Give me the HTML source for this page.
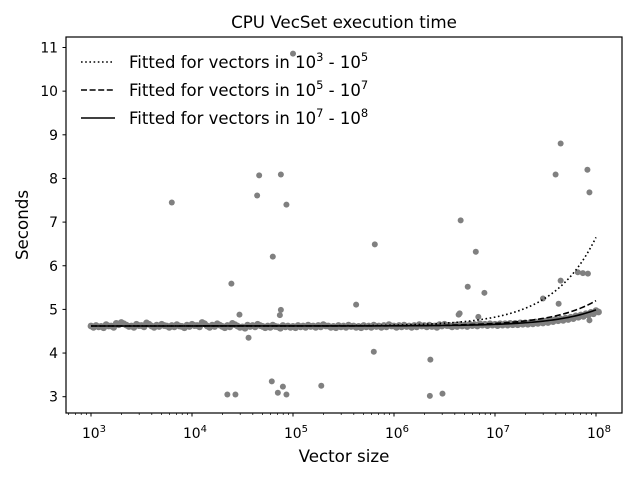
<!DOCTYPE html>
<html><head><meta charset="utf-8"><style>
html,body{margin:0;padding:0;background:#fff;}
svg{display:block;font-family:"DejaVu Sans","Liberation Sans",sans-serif;}
</style></head><body>
<svg id="chart" width="640" height="480" viewBox="0 0 640 480">
<rect x="0" y="0" width="640" height="480" fill="#fff"/>
<text x="344" y="28" text-anchor="middle" font-size="16.7">CPU VecSet execution time</text>
<g id="points"></g>
<g id="fits"></g>
<rect x="66" y="37" width="556" height="376" fill="none" stroke="#000" stroke-width="1.2"/>
<g id="yaxis"></g>
<g id="xaxis"></g>
<text x="0" y="0" transform="translate(28,225) rotate(-90)" text-anchor="middle" font-size="16.7">Seconds</text>
<text x="344" y="462" text-anchor="middle" font-size="16.7">Vector size</text>
<g>
 <g>
  <line x1="81" y1="62" x2="113" y2="62" stroke="#000" stroke-width="1.6" stroke-dasharray="1.6,2.6"/>
  <text x="129" y="68" font-size="16.5">Fitted for vectors in 10<tspan dy="-7" font-size="11.5">3</tspan><tspan dy="7"> - 10</tspan><tspan dy="-7" font-size="11.5">5</tspan></text>
 </g>
 <g>
  <line x1="81" y1="90" x2="113" y2="90" stroke="#000" stroke-width="1.6" stroke-dasharray="6,2.6"/>
  <text x="129" y="96" font-size="16.5">Fitted for vectors in 10<tspan dy="-7" font-size="11.5">5</tspan><tspan dy="7"> - 10</tspan><tspan dy="-7" font-size="11.5">7</tspan></text>
 </g>
 <g>
  <line x1="81" y1="118" x2="115" y2="118" stroke="#000" stroke-width="1.6"/>
  <text x="129" y="124" font-size="16.5">Fitted for vectors in 10<tspan dy="-7" font-size="11.5">7</tspan><tspan dy="7"> - 10</tspan><tspan dy="-7" font-size="11.5">8</tspan></text>
 </g>
</g>
</svg>
<script>
const yTicks = [3,4,5,6,7,8,9,10,11];
const xTickExps = [3,4,5,6,7,8];
// dense band: log10(size) and seconds
const bandExp = [];
for (let i = 0; i <= 100; i++) bandExp.push(3 + i*0.05);
const bandVals = [
 4.62,4.63,4.61,4.65,4.62,4.68,4.70,4.64,4.62,4.66,4.63,4.69,4.62,4.64,4.66,4.62,4.63,4.65,4.61,4.64,
 4.66,4.63,4.70,4.62,4.64,4.67,4.61,4.63,4.68,4.62,4.60,4.64,4.63,4.66,4.61,4.62,4.64,4.60,4.63,4.62,
 4.61,4.63,4.62,4.64,4.62,4.63,4.65,4.62,4.61,4.63,4.62,4.64,4.62,4.61,4.63,4.62,4.64,4.62,4.63,4.65,
 4.62,4.63,4.64,4.62,4.63,4.65,4.63,4.64,4.62,4.65,4.66,4.63,4.64,4.65,4.64,4.66,4.65,4.67,4.66,4.67,
 4.66,4.67,4.67,4.68,4.68,4.69,4.69,4.70,4.71,4.72,4.73,4.75,4.77,4.78,4.80,4.82,4.85,4.87,4.90,4.93,4.97];
// outliers
const outExp = [3.80,4.645,4.665,4.88,4.935,5.0,4.80,4.39,4.47,4.56,4.88,4.87,4.79,4.35,4.43,4.85,4.90,4.935,5.28,5.625,5.81,5.80,6.36,6.355,6.48,6.66,6.65,6.64,6.73,6.81,6.835,6.895,7.475,7.60,7.65,7.63,7.65,7.82,7.87,7.92,7.915,7.935,7.935];
const outVals = [7.45,7.61,8.07,8.09,7.40,10.86,6.21,5.59,4.88,4.35,4.99,4.87,3.35,3.05,3.05,3.09,3.23,3.05,3.25,5.11,6.49,4.03,3.85,3.02,3.07,7.04,4.91,4.88,5.52,6.32,4.83,5.38,5.25,8.09,8.80,5.13,5.66,5.85,5.83,5.82,8.20,7.68,4.75];
// fitted linear models y = intercept + slope * size
const fitIntercepts = [4.62,4.62,4.62];
const fitSlopes = [2.03e-8,0.58e-8,0.37e-8];
const fitDash = ["1.6,2.6","6,2.6",""];
const fitNames = ["fit-dotted-1e3-1e5","fit-dashed-1e5-1e7","fit-solid-1e7-1e8"];

const NS="http://www.w3.org/2000/svg";
const X0=91, PXD=101, Y3=396.7, PXU=43.65;
const xs = e => X0 + (e-3)*PXD;
const ys = v => Y3 - (v-3)*PXU;
function mk(tag, attrs, parent){const el=document.createElementNS(NS,tag);for(const k in attrs)el.setAttribute(k,attrs[k]);parent.appendChild(el);return el;}

const pts=document.getElementById('points');
bandExp.forEach((e,i)=>{
 const c=mk('circle',{cx:xs(e),cy:ys(bandVals[i]),r:3.4,fill:'#808080'},pts);
 
 
 const c2=mk('circle',{cx:xs(e+0.025),cy:ys(bandVals[i]-0.03),r:3.4,fill:'#808080'},pts);
 
 
});
outExp.forEach((e,i)=>{
 const c=mk('circle',{cx:xs(e),cy:ys(outVals[i]),r:3,fill:'#808080'},pts);
 
 
});

const fits=document.getElementById('fits');
fitSlopes.forEach((s,k)=>{
 let d='';
 for(let i=0;i<=200;i++){const e=3+i*0.025;const v=fitIntercepts[k]+s*Math.pow(10,e);d+=(i?'L':'M')+xs(e).toFixed(2)+','+ys(v).toFixed(2);}
 const p=mk('path',{d:d,fill:'none',stroke:'#000','stroke-width':1.6},fits);
 if(fitDash[k])p.setAttribute('stroke-dasharray',fitDash[k]);
 
 
});

const ya=document.getElementById('yaxis');
yTicks.forEach(v=>{
 const y=ys(v);
 const t=mk('line',{x1:62.5,x2:66,y1:y,y2:y,stroke:'#000','stroke-width':1},ya);
 
 
 const l=mk('text',{x:58,y:y+5,'text-anchor':'end','font-size':13.9},ya);
 l.textContent=v;
 
 
});
const xa=document.getElementById('xaxis');
for(let e=2;e<=8;e++){
 for(let m=1;m<10;m++){
  const ex=e+Math.log10(m);
  const x=xs(ex);
  if(x<66||x>622)continue;
  const major=m===1;
  const t=mk('line',{x1:x,x2:x,y1:413,y2:major?416.5:415,stroke:'#000','stroke-width':major?1:0.7},xa);
  
  
 }
}
xTickExps.forEach(e=>{
 const l=mk('text',{x:xs(e)+3,y:438,'text-anchor':'middle','font-size':13.9},xa);
 l.textContent='10';
 const sp=mk('tspan',{dy:-6,'font-size':10},l);
 sp.textContent=e;
 
 
});
</script>
</body></html>
